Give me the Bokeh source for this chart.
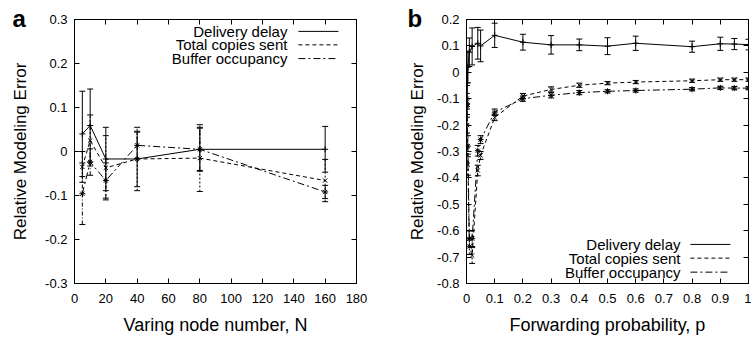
from bokeh.plotting import figure
from bokeh.layouts import row
from bokeh.models import (Range1d, FixedTicker, LinearAxis, Whisker, TeeHead,
                          ColumnDataSource, CustomJSTickFormatter, Title)
from bokeh.embed import file_html
from bokeh.resources import INLINE

# ---------------- Panel a data ----------------
a_N = [5, 10, 20, 40, 80, 160]
a_delay = [0.040, 0.059, -0.017, -0.017, 0.005, 0.005]
a_delay_err = [0.097, 0.083, 0.072, 0.063, 0.048, 0.052]
a_copies = [-0.035, 0.025, -0.037, -0.017, -0.015, -0.066]
a_copies_err = [0.035, 0.058, 0.073, 0.072, 0.076, 0.048]
a_buffer = [-0.096, -0.024, -0.066, 0.014, 0.005, -0.092]
a_buffer_err = [0.070, 0.030, 0.040, 0.030, 0.050, 0.015]

# ---------------- Panel b data ----------------
b_p = [0.001, 0.002, 0.005, 0.01, 0.02, 0.04, 0.05, 0.1, 0.2, 0.3, 0.4,
       0.5, 0.6, 0.8, 0.9, 0.95, 1.0]
b_delay = [-0.12, -0.05, 0.02, 0.076, 0.098, 0.110, 0.100, 0.140, 0.114,
           0.104, 0.104, 0.099, 0.110, 0.097, 0.108, 0.107, 0.105]
b_delay_err = [0.08, 0.07, 0.06, 0.054, 0.07, 0.06, 0.06, 0.046, 0.030,
               0.035, 0.022, 0.032, 0.027, 0.021, 0.025, 0.021, 0.020]
b_copies = [-0.12, -0.20, -0.35, -0.66, -0.694, -0.372, -0.315, -0.171,
            -0.090, -0.065, -0.049, -0.041, -0.037, -0.032, -0.028, -0.028, -0.028]
b_copies_err = [0.02, 0.03, 0.04, 0.03, 0.03, 0.02, 0.015, 0.012, 0.010,
                0.010, 0.008, 0.006, 0.006, 0.006, 0.006, 0.006, 0.006]
b_buffer = [-0.10, -0.13, -0.28, -0.631, -0.630, -0.297, -0.255, -0.151,
            -0.100, -0.087, -0.077, -0.072, -0.069, -0.064, -0.059, -0.060, -0.060]
b_buffer_err = [0.02, 0.03, 0.04, 0.03, 0.03, 0.02, 0.015, 0.012, 0.010,
                0.010, 0.008, 0.006, 0.006, 0.006, 0.006, 0.006, 0.006]

series_names = ["Delivery delay", "Total copies sent", "Buffer occupancy"]
panel_letters = ["a", "b"]
a_xticks = [0, 20, 40, 60, 80, 100, 120, 140, 160, 180]
a_yticks = [-0.3, -0.2, -0.1, 0, 0.1, 0.2, 0.3]
b_xticks = [0, 0.1, 0.2, 0.3, 0.4, 0.5, 0.6, 0.7, 0.8, 0.9, 1.0]
b_yticks = [-0.8, -0.7, -0.6, -0.5, -0.4, -0.3, -0.2, -0.1, 0, 0.1, 0.2]

FONT = "Liberation Sans"
STYLES = [
    dict(dash="solid", wdash="solid", marker="cross"),
    dict(dash="4 3", wdash="2 2", marker="x"),
    dict(dash="7 3 2 3", wdash="4 2 1 2", marker="asterisk"),
]

dec_fmt = CustomJSTickFormatter(code="""
var s = tick.toFixed(1);
if (s === '0.0' || s === '-0.0') return '0';
if (s === '1.0') return '1';
return s;
""")


def make_panel(xr, yr, xticks, yticks, xfmt, yfmt, xlabel, left_border, right_border,
               ylab_standoff):
    p = figure(frame_width=282, frame_height=264,
               x_range=Range1d(*xr), y_range=Range1d(*yr),
               output_backend="svg", toolbar_location=None,
               min_border_left=left_border, min_border_right=right_border,
               min_border_top=19, min_border_bottom=56,
               background_fill_color="white", border_fill_color="white")
    p.xgrid.visible = False
    p.ygrid.visible = False
    p.outline_line_color = "black"
    p.outline_line_width = 1
    p.outline_line_alpha = 1.0
    for ax, ticks, fmt in ((p.xaxis[0], xticks, xfmt), (p.yaxis[0], yticks, yfmt)):
        ax.ticker = FixedTicker(ticks=ticks)
        if fmt is not None:
            ax.formatter = fmt
        ax.major_tick_in = 5
        ax.major_tick_out = 0
        ax.minor_tick_in = 0
        ax.minor_tick_out = 0
        ax.axis_line_color = "black"
        ax.major_tick_line_color = "black"
        ax.major_label_text_font = FONT
        ax.major_label_text_font_size = "13px"
        ax.major_label_text_color = "black"
        ax.axis_label_text_font = FONT
        ax.axis_label_text_font_size = "18px"
        ax.axis_label_text_font_style = "normal"
        ax.axis_label_text_color = "black"
    p.yaxis.axis_label_text_font_size = "17px"
    p.xaxis.major_label_standoff = 10
    p.yaxis.major_label_standoff = 7
    p.xaxis.axis_label = xlabel
    p.xaxis.axis_label_standoff = 9
    p.yaxis.axis_label = "Relative Modeling Error"
    p.yaxis.axis_label_standoff = ylab_standoff
    # mirrored ticks on top and right (no labels)
    for side, ticks in (("above", xticks), ("right", yticks)):
        ax = LinearAxis(ticker=FixedTicker(ticks=ticks),
                        formatter=CustomJSTickFormatter(code="return '';"),
                        major_tick_in=5, major_tick_out=0, minor_tick_in=0, minor_tick_out=0,
                        major_label_standoff=0, axis_line_color="black",
                        major_tick_line_color="black")
        p.add_layout(ax, side)
    return p


def add_series(p, xs, ys, errs):
    for (y, e, st) in zip(ys, errs, STYLES):
        src = ColumnDataSource(dict(x=xs, y=y,
                                    upper=[v + d for v, d in zip(y, e)],
                                    lower=[v - d for v, d in zip(y, e)]))
        w = Whisker(source=src, base="x", upper="upper", lower="lower",
                    line_color="black", line_width=1, line_dash=st["wdash"],
                    upper_head=TeeHead(size=6, line_color="black", line_width=1),
                    lower_head=TeeHead(size=6, line_color="black", line_width=1))
        p.add_layout(w)
        p.line("x", "y", source=src, line_color="black", line_width=1,
               line_dash=st["dash"])
        p.scatter("x", "y", source=src, marker=st["marker"], size=6,
                  line_color="black", fill_color="black", line_width=1)


def add_legend(p, fx_text, fx0, fx1, fys):
    xr, yr = p.x_range, p.y_range
    X = lambda f: xr.start + f * (xr.end - xr.start)
    Y = lambda f: yr.start + f * (yr.end - yr.start)
    for name, st, fy in zip(series_names, STYLES, fys):
        p.text(x=[X(fx_text)], y=[Y(fy)], text=[name], text_align="right",
               text_baseline="middle", text_font_size="15px", text_color="black",
               text_font={"value": FONT})
        p.line(x=[X(fx0), X(fx1)], y=[Y(fy), Y(fy)], line_color="black",
               line_width=1, line_dash=st["dash"])


def add_letter(p, letter, dx):
    # panel letter as a title: titles are not clipped to the frame
    p.add_layout(Title(text=letter, align="left", offset=dx, standoff=-25,
                       text_font=FONT, text_font_size="24px", text_font_style="bold",
                       text_color="black"), "above")


pa = make_panel((0, 180), (-0.3, 0.3), a_xticks, a_yticks, None, dec_fmt,
                "Varing node number, N", 74, 24, 12)
add_series(pa, a_N, [a_delay, a_copies, a_buffer],
           [a_delay_err, a_copies_err, a_buffer_err])
add_legend(pa, 0.755, 0.794, 0.936, [0.955, 0.904, 0.852])
add_letter(pa, panel_letters[0], -62)

pb = make_panel((0, 1), (-0.8, 0.2), b_xticks, b_yticks, dec_fmt, dec_fmt,
                "Forwarding probability, p", 86, 3, 7)
add_series(pb, b_p, [b_delay, b_copies, b_buffer],
           [b_delay_err, b_copies_err, b_buffer_err])
add_legend(pb, 0.759, 0.794, 0.936, [0.148, 0.096, 0.043])
add_letter(pb, panel_letters[1], -59)

layout = row(pa, pb)
open("out.html", "w").write(file_html(layout, INLINE))
